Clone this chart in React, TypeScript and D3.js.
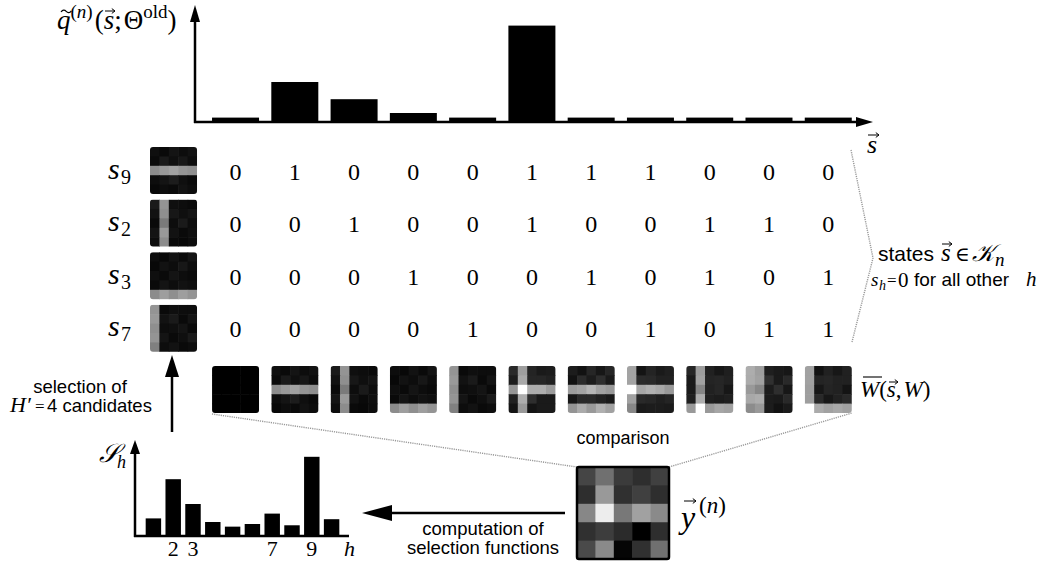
import React from 'react';
import * as d3 from 'd3';

// ---------------- data ----------------
const STATE_COLS = d3.range(11);
const TOP_Q = [0.022, 0.2, 0.114, 0.045, 0.022, 0.482, 0.022, 0.022, 0.022, 0.022, 0.022];
const ROW_LABELS = ['9', '2', '3', '7'];
const STATE_TABLE = [
  [0, 1, 0, 0, 0, 1, 1, 1, 0, 0, 0],
  [0, 0, 1, 0, 0, 1, 0, 0, 1, 1, 0],
  [0, 0, 0, 1, 0, 0, 1, 0, 1, 0, 1],
  [0, 0, 0, 0, 1, 0, 0, 1, 0, 1, 1],
];
const FIELD_S9 = [
  [0.06, 0.04, 0.08, 0.05, 0.07],
  [0.04, 0.1, 0.06, 0.09, 0.05],
  [0.55, 0.6, 0.63, 0.58, 0.56],
  [0.05, 0.08, 0.11, 0.06, 0.04],
  [0.03, 0.05, 0.04, 0.07, 0.05],
];
const FIELD_S2 = [
  [0.1, 0.58, 0.06, 0.05, 0.04],
  [0.07, 0.56, 0.09, 0.06, 0.08],
  [0.04, 0.48, 0.05, 0.1, 0.05],
  [0.08, 0.6, 0.07, 0.04, 0.06],
  [0.05, 0.55, 0.04, 0.03, 0.05],
];
const FIELD_S3 = [
  [0.05, 0.03, 0.07, 0.04, 0.08],
  [0.03, 0.07, 0.05, 0.09, 0.05],
  [0.06, 0.04, 0.08, 0.05, 0.04],
  [0.04, 0.08, 0.05, 0.07, 0.06],
  [0.55, 0.62, 0.56, 0.62, 0.58],
];
const FIELD_S7 = [
  [0.58, 0.04, 0.06, 0.05, 0.05],
  [0.6, 0.07, 0.1, 0.04, 0.08],
  [0.56, 0.05, 0.06, 0.08, 0.04],
  [0.58, 0.08, 0.04, 0.06, 0.1],
  [0.5, 0.05, 0.07, 0.04, 0.05],
];
const FIELDS = [FIELD_S9, FIELD_S2, FIELD_S3, FIELD_S7];
const Y_N = [
  [0.27, 0.44, 0.23, 0.18, 0.25],
  [0.18, 0.6, 0.19, 0.25, 0.18],
  [0.53, 0.93, 0.47, 0.63, 0.54],
  [0.19, 0.24, 0.17, 0.0, 0.18],
  [0.29, 0.54, 0.02, 0.19, 0.44],
];
const H_UNITS = d3.range(1, 11);
const S_H = [0.22, 0.71, 0.4, 0.175, 0.117, 0.15, 0.28, 0.134, 0.99, 0.21];
const H_TICKS = [2, 3, 7, 9];

// ---------------- helpers ----------------
const serif = "'Liberation Serif', 'Times New Roman', serif";
const sans = "'Liberation Sans', Arial, Helvetica, sans-serif";
const mathFont = "'DejaVu Serif', 'Noto Sans', serif";
const gray = d3.scaleLinear<string>().domain([0, 1]).range(['#000000', '#ffffff']).clamp(true);

function Pixels({ id, x, y, size, data, rx = 3, border = 0 }: any) {
  const n = data.length;
  const cell = d3.scaleBand<number>().domain(d3.range(n)).range([0, size]);
  return (
    <g>
      <clipPath id={id}>
        <rect x={x} y={y} width={size} height={size} rx={rx} />
      </clipPath>
      <g clipPath={`url(#${id})`}>
        {data.flatMap((row: number[], r: number) =>
          row.map((v: number, k: number) => (
            <rect key={r + '-' + k} x={x + (cell(k) as number)} y={y + (cell(r) as number)}
              width={cell.bandwidth() + 0.6} height={cell.bandwidth() + 0.6} fill={gray(v)} />
          ))
        )}
      </g>
      {border ? <rect x={x} y={y} width={size} height={size} rx={rx} fill="none" stroke="#000" strokeWidth={border} /> : null}
    </g>
  );
}

function VecArrow({ x, y, w }: any) {
  return (
    <g stroke="#000" strokeWidth={1} fill="none">
      <line x1={x} y1={y} x2={x + w} y2={y} />
      <path d={`M${x + w - 3.2},${y - 2.4} L${x + w},${y} L${x + w - 3.2},${y + 2.4}`} />
    </g>
  );
}

function arrowHead(tx: number, ty: number, dir: 'up' | 'left' | 'right', len: number, hw: number) {
  if (dir === 'up') return `${tx},${ty} ${tx - hw},${ty + len} ${tx + hw},${ty + len}`;
  if (dir === 'left') return `${tx},${ty} ${tx + len},${ty - hw} ${tx + len},${ty + hw}`;
  return `${tx},${ty} ${tx - len},${ty - hw} ${tx - len},${ty + hw}`;
}

export default function App() {
  const W = 1050, H = 562;
  // state columns
  const x = d3.scaleBand<number>().domain(STATE_COLS).range([205.9, 857.9]).paddingInner(0.207).paddingOuter(0.1035);
  const bw = x.bandwidth();
  const cx = (i: number) => (x(i) as number) + bw / 2;
  // top histogram
  const yTop = d3.scaleLinear().domain([0, 0.5]).range([122, 22]);
  // table rows
  const rows = d3.scaleBand<string>().domain(ROW_LABELS).range([144.2, 354.6]).paddingInner(0.106).paddingOuter(0.053);
  const rc = (l: string) => (rows(l) as number) + rows.bandwidth() / 2;
  // combined images
  const combos = STATE_COLS.map((j) =>
    FIELDS[0].map((row, r) => row.map((_, k) => Math.min(1, d3.sum(FIELDS, (f, i) => STATE_TABLE[i][j] * f[r][k]))))
  );
  // bottom histogram
  const hx = d3.scaleBand<number>().domain(H_UNITS).range([143.5, 341.5]).paddingInner(0.22).paddingOuter(0.11);
  const hy = d3.scaleLinear().domain([0, 1]).range([536, 456]);
  const hc = (h: number) => (hx(h) as number) + hx.bandwidth() / 2;

  const imgTop = 366;
  const yImg = { x: 577, y: 467, s: 92 };
  const l2 = 286; // baseline of the second "states" line

  return (
    <svg width={W} height={H} style={{ position: 'absolute', left: 0, top: 0, background: '#fff' }}>
      {/* ---------- top histogram ---------- */}
      <g>
        {STATE_COLS.map((i) => (
          <rect key={i} x={x(i)} y={yTop(TOP_Q[i])} width={bw} height={122 - yTop(TOP_Q[i])} fill="#000" />
        ))}
        <line x1={195} y1={123} x2={195} y2={20} stroke="#000" strokeWidth={2.5} />
        <polygon points={arrowHead(195, 5, 'up', 17, 5)} fill="#000" />
        <line x1={194} y1={122} x2={858} y2={122} stroke="#000" strokeWidth={2.5} />
        <polygon points={arrowHead(873, 122, 'right', 17, 5)} fill="#000" />
        {/* y label */}
        <text x={57} y={29} fontFamily={serif} fontSize={27}>
          <tspan fontStyle="italic">q</tspan>
          <tspan fontSize={19} dy={-11}>(</tspan>
          <tspan fontSize={19} fontStyle="italic">n</tspan>
          <tspan fontSize={19}>)</tspan>
          <tspan dy={11} dx={2}>(</tspan>
          <tspan fontStyle="italic">s</tspan>
          <tspan>;</tspan>
          <tspan dx={2}>Θ</tspan>
          <tspan fontSize={19} dy={-11}>old</tspan>
          <tspan dy={11}>)</tspan>
        </text>
        <path d="M61,12 q2.6,-3.4 5.2,-0.6 t5.2,-0.6" fill="none" stroke="#000" strokeWidth={1.2} />
        <VecArrow x={105} y={11} w={10} />
        {/* x label */}
        <text x={867} y={153} fontFamily={serif} fontSize={26} fontStyle="italic">s</text>
        <VecArrow x={868} y={135} w={11} />
      </g>

      {/* ---------- table ---------- */}
      <g>
        {ROW_LABELS.map((l, ri) => (
          <g key={l}>
            <text x={108} y={rc(l) + 8} fontFamily={serif} fontSize={30} fontStyle="italic">s</text>
            <text x={121} y={rc(l) + 13} fontFamily={serif} fontSize={20}>{l}</text>
            <Pixels id={'left' + l} x={150} y={rows(l)} size={rows.bandwidth()} data={FIELDS[ri]} />
            {STATE_COLS.map((j) => (
              <text key={j} x={cx(j)} y={rc(l) + 9} textAnchor="middle" fontFamily={serif} fontSize={24}>
                {STATE_TABLE[ri][j]}
              </text>
            ))}
          </g>
        ))}
        {/* bracket */}
        <polyline points="851,150 873,258 852,342" fill="none" stroke="#999" strokeWidth={1.4} strokeDasharray="1.2,1" />
        <text x={878} y={261} fontFamily={sans} fontSize={21}>states</text>
        <text x={941} y={261} fontFamily={serif} fontSize={25} fontStyle="italic">s</text>
        <VecArrow x={942} y={244} w={10} />
        <text x={955} y={261} fontFamily={mathFont} fontSize={20}>∈</text>
        <text x={972} y={261} fontFamily={mathFont} fontSize={24} fontStyle="italic">
          <tspan>𝒦</tspan>
          <tspan fontFamily={serif} fontSize={19} dy={5} dx={1}>n</tspan>
        </text>
        <text x={871} y={l2} fontFamily={serif} fontSize={19} fontStyle="italic">s</text>
        <text x={879} y={l2 + 4} fontFamily={serif} fontSize={14} fontStyle="italic">h</text>
        <text x={887} y={l2} fontFamily={serif} fontSize={17}>=</text>
        <text x={898} y={l2 + 1} fontFamily={serif} fontSize={21}>0</text>
        <text x={914} y={l2} fontFamily={sans} fontSize={19}>for all other</text>
        <text x={1026} y={l2} fontFamily={serif} fontSize={21} fontStyle="italic">h</text>
      </g>

      {/* ---------- combined images ---------- */}
      <g>
        {STATE_COLS.map((j) => (
          <Pixels key={j} id={'w' + j} x={x(j)} y={imgTop} size={bw} data={combos[j]} />
        ))}
        <line x1={863} y1={377} x2={882} y2={377} stroke="#000" strokeWidth={1.1} />
        <text x={860} y={397} fontFamily={serif} fontSize={23}>
          <tspan fontStyle="italic">W</tspan>
          <tspan>(</tspan>
          <tspan fontStyle="italic">s</tspan>
          <tspan>,</tspan>
          <tspan fontStyle="italic" dx={2}>W</tspan>
          <tspan>)</tspan>
        </text>
        <VecArrow x={889} y={382} w={9} />
      </g>

      {/* ---------- comparison ---------- */}
      <g>
        <line x1={212} y1={414} x2={577} y2={467} stroke="#999" strokeWidth={1.4} strokeDasharray="1.2,1" />
        <line x1={669} y1={467} x2={852} y2={413} stroke="#999" strokeWidth={1.4} strokeDasharray="1.2,1" />
        <text x={623} y={444} textAnchor="middle" fontFamily={sans} fontSize={18}>comparison</text>
        <Pixels id="yn" x={yImg.x} y={yImg.y} size={yImg.s} data={Y_N} rx={2} border={2.5} />
        <text x={681} y={528} fontFamily={serif} fontSize={32} fontStyle="italic">y</text>
        <VecArrow x={684} y={501} w={12} />
        <text x={699} y={513} fontFamily={serif} fontSize={23}>
          <tspan>(</tspan>
          <tspan fontStyle="italic">n</tspan>
          <tspan>)</tspan>
        </text>
      </g>

      {/* ---------- arrows & captions ---------- */}
      <g>
        <line x1={565} y1={513} x2={385} y2={513} stroke="#000" strokeWidth={2.5} />
        <polygon points={arrowHead(362, 513, 'left', 30, 8)} fill="#000" />
        <text x={483} y={535} textAnchor="middle" fontFamily={sans} fontSize={18.5}>computation of</text>
        <text x={483} y={554} textAnchor="middle" fontFamily={sans} fontSize={18.5}>selection functions</text>

        <line x1={172} y1={432} x2={172} y2={370} stroke="#000" strokeWidth={2.5} />
        <polygon points={arrowHead(172, 355, 'up', 22, 7)} fill="#000" />
        <text x={80} y={393} textAnchor="middle" fontFamily={sans} fontSize={18.5}>selection of</text>
        <text x={10} y={412} fontFamily={serif} fontSize={22} fontStyle="italic">H′</text>
        <text x={35} y={412} fontFamily={serif} fontSize={17}>=</text>
        <text x={47} y={412} fontFamily={sans} fontSize={18.5}>4 candidates</text>
      </g>

      {/* ---------- bottom histogram ---------- */}
      <g>
        {H_UNITS.map((h, i) => (
          <rect key={h} x={hx(h)} y={hy(S_H[i])} width={hx.bandwidth()} height={536 - hy(S_H[i])} fill="#000" />
        ))}
        <line x1={135} y1={537} x2={135} y2={452} stroke="#000" strokeWidth={2.5} />
        <polygon points={arrowHead(135, 440, 'up', 14, 5)} fill="#000" />
        <line x1={134} y1={536} x2={349} y2={536} stroke="#000" strokeWidth={2.5} />
        {H_TICKS.map((h) => (
          <text key={h} x={hc(h)} y={556} textAnchor="middle" fontFamily={serif} fontSize={22}>{h}</text>
        ))}
        <text x={344} y={556} fontFamily={serif} fontSize={22} fontStyle="italic">h</text>
        <text x={99} y={462} fontFamily={mathFont} fontSize={26} fontStyle="italic">𝒮</text>
        <text x={117} y={468} fontFamily={serif} fontSize={18} fontStyle="italic">h</text>
      </g>
    </svg>
  );
}
